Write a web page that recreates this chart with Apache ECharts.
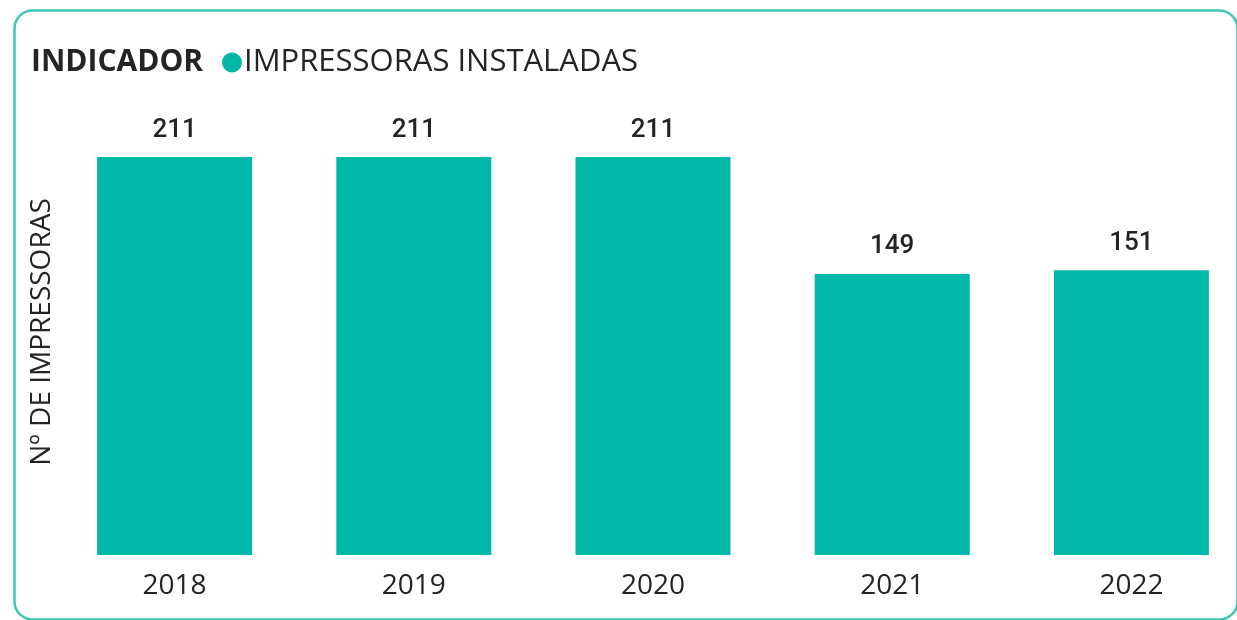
<!DOCTYPE html>
<html>
<head>
<meta charset="utf-8">
<script src="https://cdn.jsdelivr.net/npm/echarts@6/dist/echarts.min.js"></script>
<style>
  html, body { margin: 0; padding: 0; background: #fff; }
  #chart { width: 1237px; height: 620px; }
</style>
</head>
<body>
<div id="chart"></div>
<script>
// dados do gráfico
var anos = ['2018', '2019', '2020', '2021', '2022'];
var impressoras = [211, 211, 211, 149, 151];
var nomeSerie = 'IMPRESSORAS INSTALADAS';
var nomeEixoY = 'Nº DE IMPRESSORAS';

var myChart = echarts.init(document.getElementById('chart'));

var option = {
    backgroundColor: '#fff',
    color: ['#01B8AA'],
    animation: false,
    title: {
        text: 'INDICADOR',
        left: 26,
        top: 42,
        textStyle: {
            fontFamily: 'Open Sans',
            fontWeight: 'bold',
            fontSize: 30,
            color: '#252423'
        }
    },
    legend: {
        left: 217,
        top: 42,
        icon: 'circle',
        itemWidth: 20,
        itemHeight: 20,
        itemGap: 6,
        textStyle: {
            fontFamily: 'Open Sans',
            fontSize: 31,
            color: '#252423',
            padding: [0, 0, 0, -3]
        },
        data: [nomeSerie]
    },
    grid: {
        left: 55,
        width: 1196,
        top: 157,
        bottom: 65,
        outerBoundsMode: 'none'
    },
    xAxis: [{
        type: 'category',
        data: anos,
        axisLine: { show: false },
        axisTick: { show: false },
        axisLabel: {
            fontFamily: 'Open Sans',
            fontSize: 28,
            color: '#252423',
            margin: 17
        }
    }],
    yAxis: [{
        type: 'value',
        min: 0,
        max: 211,
        axisLine: { show: false },
        axisTick: { show: false },
        axisLabel: { show: false },
        splitLine: { show: false }
    }],
    series: [{
        type: 'bar',
        name: nomeSerie,
        barWidth: 155,
        data: impressoras,
        label: {
            show: true,
            position: 'top',
            distance: 14,
            fontFamily: 'Roboto',
            fontWeight: 500,
            fontSize: 26,
            color: '#252423'
        }
    }],
    graphic: [{
        type: 'rect',
        left: 12,
        top: 8,
        shape: { width: 1223, height: 609, r: 18 },
        style: { fill: 'none', stroke: '#3EC7B3', lineWidth: 2.5 },
        silent: true
    }, {
        // nome do eixo Y
        type: 'text',
        x: 42,
        y: 332,
        rotation: Math.PI / 2,
        style: {
            text: nomeEixoY,
            fontFamily: 'Open Sans',
            fontSize: 28,
            fill: '#252423',
            align: 'center',
            verticalAlign: 'middle'
        },
        silent: true
    }]
};

myChart.setOption(option);
</script>
</body>
</html>
